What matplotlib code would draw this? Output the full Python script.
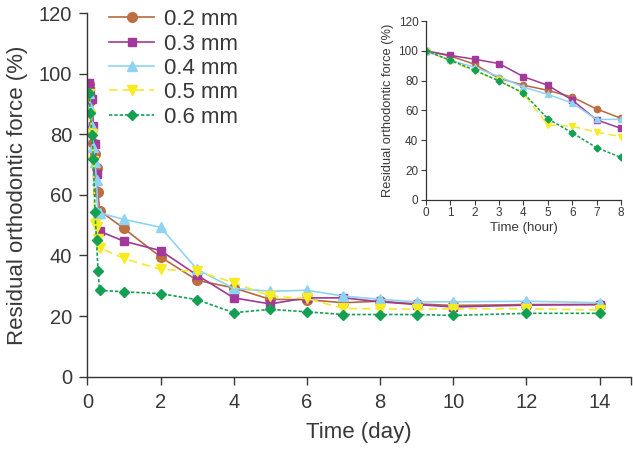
import matplotlib
matplotlib.use("Agg")
import matplotlib.pyplot as plt
import numpy as np

plt.rcParams['font.family'] = ['Liberation Sans', 'DejaVu Sans']

series_labels = ["0.2 mm", "0.3 mm", "0.4 mm", "0.5 mm", "0.6 mm"]

hours = [0, 1, 2, 3, 4, 5, 6, 7, 8]
hour_vals = {
    "0.2 mm": [100, 96.6, 91.0, 81.6, 77.0, 73.5, 69.0, 61.0, 54.8],
    "0.3 mm": [100, 97.0, 94.4, 91.5, 82.7, 76.9, 67.0, 53.7, 48.0],
    "0.4 mm": [100, 93.7, 89.0, 82.7, 75.7, 70.8, 65.0, 54.0, 54.0],
    "0.5 mm": [100, 93.3, 86.3, 80.2, 71.2, 50.3, 49.4, 45.4, 42.5],
    "0.6 mm": [100, 93.7, 87.0, 79.8, 71.7, 54.4, 45.0, 35.0, 28.5],
}

days = [1, 2, 3, 4, 5, 6, 7, 8, 9, 10, 12, 14]
day_vals = {
    "0.2 mm": [48.9, 39.5, 31.8, 29.3, 25.5, 25.4, 24.4, 24.9, 24.0, 23.5, 23.8, 23.8],
    "0.3 mm": [44.7, 41.6, 33.5, 26.0, 24.0, 26.0, 26.0, 24.7, 23.8, 23.0, 23.6, 23.8],
    "0.4 mm": [51.9, 49.3, 35.4, 29.1, 28.2, 28.5, 26.6, 25.5, 24.7, 24.7, 24.9, 24.4],
    "0.5 mm": [39.0, 35.4, 34.8, 31.0, 26.6, 25.8, 22.5, 22.4, 22.2, 22.4, 22.4, 22.0],
    "0.6 mm": [28.0, 27.4, 25.4, 21.1, 22.2, 21.4, 20.5, 20.5, 20.5, 20.2, 20.9, 20.9],
}

styles = {
    "0.2 mm": dict(color="#B5693F", marker="o", linestyle="-", mfc="#BE6F42", ms=7.0),
    "0.3 mm": dict(color="#9E3A96", marker="s", linestyle="-", mfc="#A33A9B", ms=6.2),
    "0.4 mm": dict(color="#8FD3F2", marker="^", linestyle="-", mfc="#8FD3F2", ms=7.2),
    "0.5 mm": dict(color="#F5E830", marker="v", linestyle=(0, (5, 3)), mfc="#F8EC20", ms=7.2),
    "0.6 mm": dict(color="#13A052", marker="D", linestyle=(0, (2, 1.2)), mfc="#13A052", ms=5.4),
}

text_color = "#383838"
fig = plt.figure(figsize=(6.33, 4.5), dpi=100)
ax = fig.add_axes([0.138, 0.163, 0.859, 0.808])

for lab in series_labels:
    st = styles[lab]
    x = [h / 24 for h in hours[1:]] + days
    y = hour_vals[lab][1:] + day_vals[lab]
    ax.plot(x, y, color=st["color"], linestyle=st["linestyle"], linewidth=1.2,
            marker=st["marker"], markersize=st["ms"],
            markerfacecolor=st["mfc"], markeredgecolor=st["mfc"], label=lab)

xmax = 14.86
ax.set_xlim(0, xmax)
ax.set_ylim(0, 120)
ax.set_xticks([0, 2, 4, 6, 8, 10, 12, 14])
ax.set_xticks([xmax], minor=True)
ax.set_yticks([0, 20, 40, 60, 80, 100, 120])
for s in ["top", "right"]:
    ax.spines[s].set_visible(False)
for s in ["left", "bottom"]:
    ax.spines[s].set_color("#333333")
    ax.spines[s].set_linewidth(1.0)
ax.tick_params(which="both", direction="out", length=6, width=1.0, colors=text_color, labelsize=14.5, pad=5)
ax.tick_params(axis="x", pad=6)
ax.set_xlabel("Time (day)", fontsize=16, color=text_color, labelpad=7)
ax.set_ylabel("Residual orthodontic force (%)", fontsize=16, color=text_color, labelpad=8)

leg = ax.legend(loc="upper left", bbox_to_anchor=(0.024, 1.035), frameon=False, fontsize=16,
                handlelength=2.0, labelspacing=0.15, handletextpad=0.45, borderaxespad=0.0)
for t in leg.get_texts():
    t.set_color(text_color)

# inset
ins = fig.add_axes([0.673, 0.556, 0.308, 0.397])
for lab in series_labels:
    st = styles[lab]
    ins.plot(hours, hour_vals[lab], color=st["color"], linestyle=st["linestyle"], linewidth=1.1,
             marker=st["marker"], markersize=st["ms"] * 0.65,
             markerfacecolor=st["mfc"], markeredgecolor=st["mfc"])
ins.set_xlim(0, 8)
ins.set_ylim(0, 120)
ins.set_xticks(range(0, 9))
ins.set_yticks([0, 20, 40, 60, 80, 100, 120])
for s in ["top", "right"]:
    ins.spines[s].set_visible(False)
for s in ["left", "bottom"]:
    ins.spines[s].set_color("#333333")
    ins.spines[s].set_linewidth(0.9)
ins.patch.set_alpha(0)
ins.tick_params(direction="out", length=3.5, width=0.8, colors=text_color, labelsize=8.5, pad=2)
ins.set_xlabel("Time (hour)", fontsize=9.5, color=text_color, labelpad=2)
ins.set_ylabel("Residual orthodontic force (%)", fontsize=9.3, color=text_color, labelpad=3)

fig.savefig("out.png", dpi=100)
